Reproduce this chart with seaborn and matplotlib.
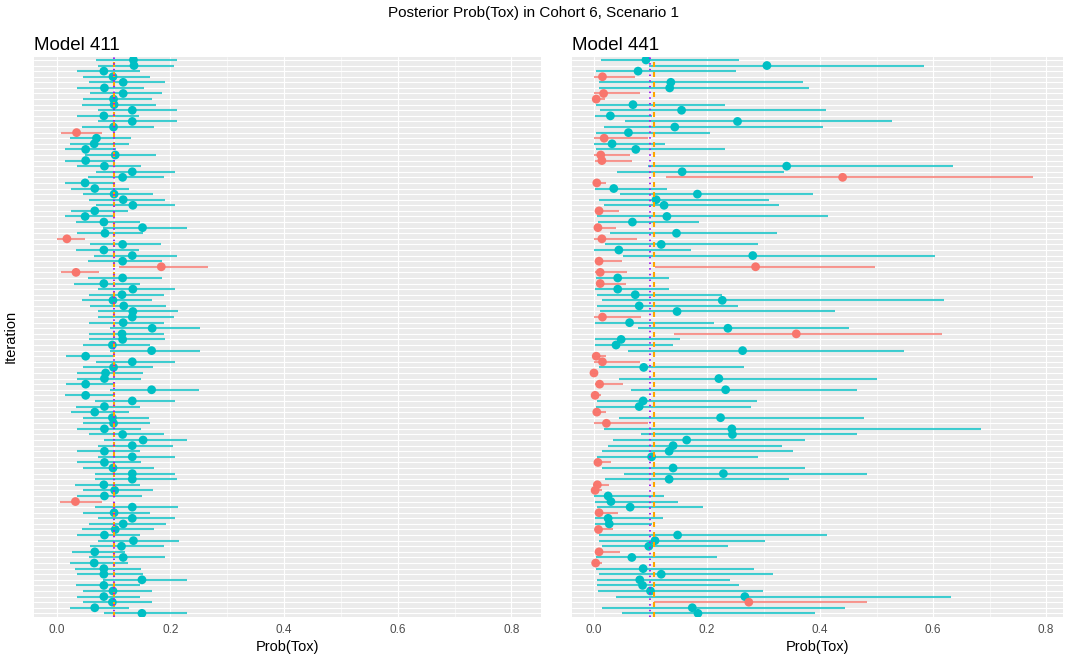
import numpy as np
import pandas as pd
import matplotlib
matplotlib.use("Agg")
import matplotlib.pyplot as plt
import seaborn as sns

# ---------------- data ----------------
true_tox = 0.1
mean_post = [0.100, 0.107]          # orange dashed reference (posterior mean), per model
models = ["Model 411", "Model 441"]

est_411 = [0.135,0.136,0.083,0.099,0.117,0.084,0.117,0.100,0.101,0.133,
           0.083,0.133,0.100,0.035,0.070,0.066,0.051,0.103,0.051,0.084,
           0.133,0.116,0.050,0.067,0.101,0.117,0.134,0.067,0.050,0.083,
           0.151,0.085,0.018,0.116,0.083,0.133,0.116,0.184,0.034,0.116,
           0.083,0.134,0.115,0.099,0.118,0.134,0.133,0.117,0.168,0.115,
           0.116,0.098,0.167,0.051,0.133,0.100,0.086,0.084,0.051,0.167,
           0.051,0.133,0.084,0.067,0.098,0.100,0.084,0.116,0.152,0.133,
           0.084,0.133,0.084,0.099,0.133,0.133,0.083,0.102,0.084,0.033,
           0.133,0.101,0.133,0.117,0.103,0.084,0.135,0.114,0.067,0.117,
           0.066,0.083,0.083,0.150,0.083,0.099,0.083,0.098,0.067,0.150]
lo_411 = [0.070,0.073,0.035,0.046,0.057,0.035,0.059,0.046,0.044,0.072,
          0.036,0.072,0.044,0.007,0.023,0.023,0.014,0.050,0.015,0.035,
          0.069,0.055,0.015,0.026,0.046,0.057,0.070,0.025,0.014,0.034,
          0.082,0.035,0.001,0.059,0.034,0.066,0.055,0.110,0.007,0.055,
          0.031,0.072,0.056,0.045,0.059,0.072,0.072,0.056,0.093,0.057,
          0.056,0.047,0.093,0.016,0.070,0.046,0.035,0.035,0.016,0.094,
          0.015,0.068,0.034,0.026,0.047,0.047,0.035,0.057,0.083,0.072,
          0.036,0.073,0.035,0.046,0.068,0.068,0.033,0.046,0.035,0.006,
          0.068,0.046,0.072,0.057,0.045,0.035,0.072,0.059,0.027,0.056,
          0.023,0.033,0.035,0.082,0.034,0.046,0.035,0.046,0.023,0.083]
hi_411 = [0.211,0.207,0.147,0.165,0.191,0.154,0.186,0.167,0.174,0.211,
          0.144,0.212,0.172,0.080,0.131,0.128,0.104,0.174,0.103,0.148,
          0.209,0.189,0.101,0.127,0.169,0.191,0.209,0.125,0.101,0.147,
          0.229,0.152,0.050,0.184,0.144,0.211,0.186,0.267,0.074,0.186,
          0.147,0.209,0.188,0.168,0.192,0.213,0.206,0.189,0.252,0.188,
          0.191,0.165,0.252,0.101,0.208,0.170,0.152,0.148,0.103,0.250,
          0.101,0.209,0.147,0.127,0.162,0.165,0.148,0.188,0.229,0.205,
          0.147,0.209,0.148,0.171,0.209,0.211,0.147,0.169,0.150,0.079,
          0.213,0.164,0.209,0.192,0.172,0.146,0.215,0.188,0.121,0.191,
          0.125,0.148,0.152,0.229,0.147,0.168,0.146,0.167,0.127,0.229]

est_441 = [0.092,0.306,0.078,0.015,0.136,0.134,0.017,0.004,0.069,0.155,
           0.029,0.254,0.143,0.061,0.018,0.032,0.074,0.012,0.014,0.341,
           0.156,0.440,0.005,0.035,0.183,0.110,0.124,0.009,0.129,0.068,
           0.007,0.146,0.014,0.119,0.044,0.281,0.009,0.286,0.011,0.042,
           0.011,0.042,0.073,0.227,0.080,0.147,0.015,0.063,0.237,0.358,
           0.048,0.039,0.263,0.004,0.015,0.088,0.000,0.221,0.010,0.233,
           0.002,0.087,0.080,0.005,0.224,0.022,0.244,0.245,0.164,0.140,
           0.133,0.102,0.007,0.140,0.229,0.133,0.006,0.002,0.025,0.030,
           0.064,0.009,0.025,0.027,0.008,0.148,0.108,0.097,0.009,0.067,
           0.003,0.087,0.119,0.081,0.086,0.100,0.267,0.274,0.174,0.184]
lo_441 = [0.012,0.097,0.003,0.000,0.009,0.009,0.000,0.000,0.004,0.011,
          0.001,0.055,0.017,0.003,0.000,0.000,0.004,0.000,0.001,0.096,
          0.040,0.127,0.000,0.001,0.046,0.009,0.017,0.002,0.006,0.007,
          0.000,0.029,0.000,0.019,0.000,0.052,0.002,0.108,0.002,0.004,
          0.005,0.002,0.005,0.015,0.006,0.011,0.000,0.002,0.078,0.142,
          0.002,0.001,0.060,0.000,0.000,0.008,0.000,0.045,0.001,0.065,
          0.000,0.005,0.004,0.000,0.045,0.000,0.017,0.084,0.034,0.025,
          0.015,0.005,0.001,0.014,0.054,0.019,0.001,0.000,0.000,0.001,
          0.005,0.001,0.001,0.001,0.001,0.009,0.008,0.015,0.001,0.004,
          0.000,0.004,0.009,0.006,0.006,0.007,0.039,0.107,0.014,0.050]
hi_441 = [0.257,0.584,0.252,0.073,0.370,0.380,0.081,0.019,0.231,0.411,
          0.102,0.527,0.406,0.205,0.096,0.125,0.232,0.064,0.068,0.636,
          0.337,0.777,0.021,0.129,0.388,0.310,0.328,0.045,0.415,0.186,
          0.039,0.323,0.077,0.291,0.171,0.603,0.049,0.498,0.058,0.133,
          0.056,0.133,0.227,0.619,0.254,0.427,0.084,0.213,0.452,0.615,
          0.152,0.140,0.549,0.022,0.081,0.265,0.003,0.500,0.052,0.465,
          0.012,0.288,0.277,0.021,0.478,0.096,0.685,0.465,0.374,0.332,
          0.353,0.290,0.031,0.373,0.483,0.345,0.027,0.015,0.124,0.148,
          0.193,0.043,0.123,0.102,0.033,0.412,0.302,0.238,0.046,0.218,
          0.015,0.284,0.317,0.241,0.257,0.299,0.631,0.483,0.445,0.391]

x_ticks = [0.0, 0.2, 0.4, 0.6, 0.8]
x_tick_labels = ["0.0", "0.2", "0.4", "0.6", "0.8"]

# ---------------- style ----------------
sns.set_theme(style="darkgrid", rc={
    "axes.facecolor": "#EBEBEB",
    "grid.color": "white",
    "axes.edgecolor": "none",
    "lines.scale_dashes": False,
})
plt.rcParams["font.family"] = ["Liberation Sans", "DejaVu Sans"]

TEAL = "#00BFC4"
RED = "#F8766D"

W, H = 1068, 661
fig = plt.figure(figsize=(W / 100, H / 100), dpi=100)

def frac_box(x0, x1, y0, y1):
    return [x0 / W, 1 - y1 / H, (x1 - x0) / W, (y1 - y0) / H]

panels = [
    dict(box=frac_box(34, 541, 56.6, 616.7), xlim=(-0.0399, 0.852),
         est=est_411, lo=lo_411, hi=hi_411),
    dict(box=frac_box(572, 1063, 56.6, 616.7), xlim=(-0.0389, 0.830),
         est=est_441, lo=lo_441, hi=hi_441),
]

for k, p in enumerate(panels):
    n = len(p["est"])
    df = pd.DataFrame({
        "row": np.arange(n),
        "est": p["est"], "lo": p["lo"], "hi": p["hi"],
    })
    df["covers"] = np.where((df["lo"] <= true_tox) & (df["hi"] >= true_tox), "yes", "no")
    colors = df["covers"].map({"yes": TEAL, "no": RED})

    ax = fig.add_axes(p["box"])
    ax.hlines(df["row"], df["lo"], df["hi"], colors=colors, linewidth=1.5,
              alpha=0.75, zorder=3)
    sns.scatterplot(data=df, x="est", y="row", hue="covers",
                    palette={"yes": TEAL, "no": RED}, s=40, linewidth=0,
                    legend=False, ax=ax, zorder=4)
    ax.axvline(mean_post[k], color="#FFA500", linewidth=1.5,
               linestyle=(0, (3.6, 3.6)), zorder=5)
    ax.axvline(true_tox, color="#A020F0", linewidth=1.4,
               linestyle=(0, (1.1, 3.0)), zorder=6)

    ax.set_xlim(*p["xlim"])
    ax.set_ylim(n - 1 + 0.6, -0.6)
    ax.set_yticks(np.arange(n))
    ax.set_yticklabels([])
    ax.set_xticks(x_ticks)
    ax.set_xticklabels(x_tick_labels)
    ax.set_xticks([0.1, 0.3, 0.5, 0.7], minor=True)
    ax.grid(True, which="major", color="white", linewidth=0.8)
    ax.grid(True, which="minor", axis="x", color="white", linewidth=0.4)
    ax.tick_params(axis="x", which="major", length=3, width=0.8, color="#333333",
                   labelsize=8.5, labelcolor="#4D4D4D", pad=2)
    ax.tick_params(axis="x", which="minor", length=0)
    ax.tick_params(axis="y", length=0)
    for s in ax.spines.values():
        s.set_visible(False)
    ax.set_xlabel("Prob(Tox)", fontsize=10.5, labelpad=3, color="black")
    if k == 0:
        ax.set_ylabel("Iteration", fontsize=10.5, labelpad=8, color="black")
    else:
        ax.set_ylabel("")
    ax.set_title(models[k], loc="left", fontsize=13.5, pad=5, color="black")

fig.text(0.5, 1 - 13 / H, "Posterior Prob(Tox) in Cohort 6, Scenario 1",
         ha="center", va="center", fontsize=11, color="black")

fig.savefig("out.png", dpi=100)
